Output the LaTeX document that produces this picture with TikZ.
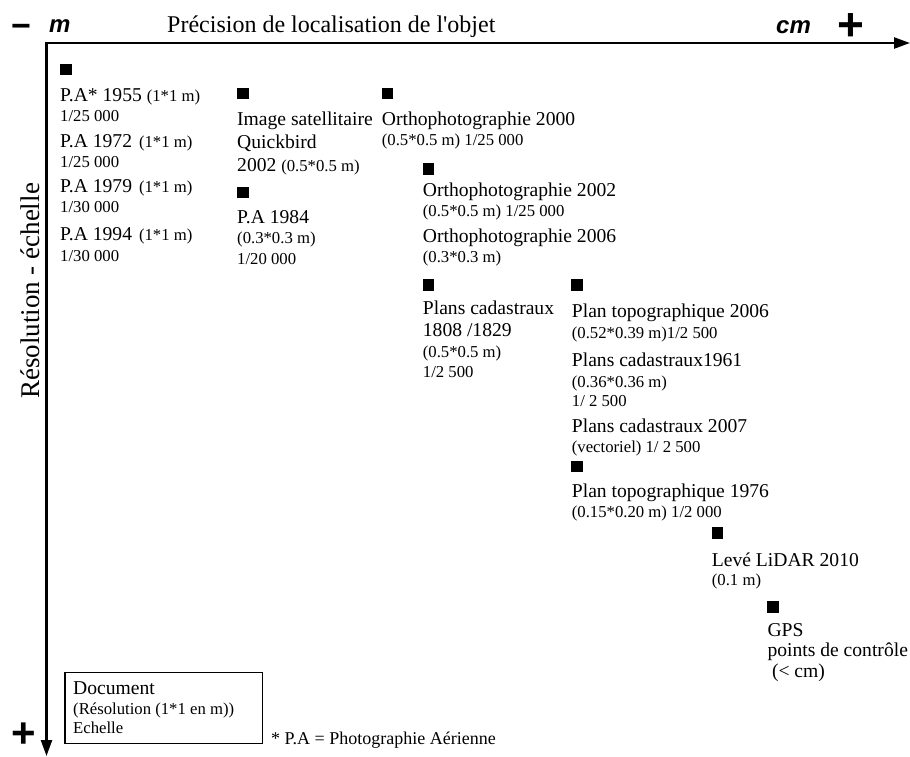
\documentclass[tikz,border=0pt]{standalone}
\usepackage{fontspec}
\setmainfont{Liberation Serif}
\newfontfamily\axsans{Liberation Sans}
\usetikzlibrary{arrows.meta}
\newcommand\smallsz{\fontsize{16.7}{18}\selectfont}
\newcommand\bigsz{\fontsize{19.6}{22}\selectfont}
\begin{document}
\begin{tikzpicture}[x=1pt,y=-1pt,
  big/.style={font=\bigsz, anchor=base west, inner sep=0pt},
  sm/.style={font=\smallsz, anchor=base west, inner sep=0pt},
  sq/.style={fill=black, minimum size=11.5pt, inner sep=0pt},
  axis/.style={line width=2.4pt, -{Triangle[length=16pt,width=11pt]}},
  unit/.style={font=\axsans\bfseries\itshape\fontsize{24}{26}\selectfont, anchor=base west, inner sep=0pt},
  sign/.style={font=\axsans\bfseries, inner sep=0pt},
  axlabel/.style={font=\fontsize{24}{26}\selectfont, inner sep=0pt}
]
\useasboundingbox[fill=white] (0,0) rectangle (910,756);

% axes
\coordinate (O) at (46.5,43);
\coordinate (xend) at (910,43);
\coordinate (yend) at (46.5,756);
\draw[axis] ([xshift=-1.2pt]O) -- (xend);
\draw[axis] (O) -- (yend);

\node[sign, font=\axsans\bfseries\fontsize{34}{34}\selectfont] (minus) at (21,31) {−};
\node[unit] (m) at (49,32) {m};
\node[axlabel, anchor=base west] (title) at (167,32) {Précision de localisation de l\textquotesingle objet};
\node[unit] (cm) at (776,33) {cm};
\node[sign, font=\axsans\bfseries\fontsize{46}{46}\selectfont] (plustop) at (851,27) {+};
\node[axlabel, font=\fontsize{27}{29}\selectfont, rotate=90] (ylabel) at (30,291) {Résolution - échelle};
\node[sign, font=\axsans\bfseries\fontsize{42}{42}\selectfont] (plusbot) at (24,735) {+};

% column 1
\node[sq] (s1) at (66,69.5) {};
\node[big] (pa55) at (60,101.7) {P.A* 1955 {\smallsz(1*1 m)}};
\node[sm] (pa55s) at (60,121.7) {1/25 000};
\node[big] (pa72) at (60,147.3) {P.A 1972\hspace{7pt}{\smallsz(1*1 m)}};
\node[sm] (pa72s) at (60,167.3) {1/25 000};
\node[big] (pa79) at (60,192.3) {P.A 1979\hspace{7pt}{\smallsz(1*1 m)}};
\node[sm] (pa79s) at (60,212.3) {1/30 000};
\node[big] (pa94) at (60,240.7) {P.A 1994\hspace{7pt}{\smallsz(1*1 m)}};
\node[sm] (pa94s) at (60,261) {1/30 000};

% column 2
\node[sq] (s2) at (243,93.5) {};
\node[big] (qb1) at (237,125) {Image satellitaire};
\node[big] (qb2) at (237,148.3) {Quickbird};
\node[big] (qb3) at (237,171.7) {2002 {\smallsz(0.5*0.5 m)}};
\node[sq] (s3) at (243,192.5) {};
\node[big] (pa84) at (237,223) {P.A 1984};
\node[sm] (pa84a) at (237,243.5) {(0.3*0.3 m)};
\node[sm] (pa84b) at (237,264) {1/20 000};

% column 3
\node[sq] (s4) at (387.5,93.5) {};
\node[big] (or00) at (381.7,125) {Orthophotographie 2000};
\node[sm] (or00s) at (381.7,145) {(0.5*0.5 m) 1/25 000};

% column 4
\node[sq] (s5) at (428.4,169) {};
\node[big] (or02) at (422.7,196.7) {Orthophotographie 2002};
\node[sm] (or02s) at (422.7,216.7) {(0.5*0.5 m) 1/25 000};
\node[big] (or06) at (422.7,242.7) {Orthophotographie 2006};
\node[sm] (or06s) at (422.7,262.7) {(0.3*0.3 m)};
\node[sq] (s6) at (428.4,285) {};
\node[big] (pc1) at (422.7,314.5) {Plans cadastraux};
\node[big] (pc2) at (422.7,336.7) {1808 /1829};
\node[sm] (pc3) at (422.7,357.3) {(0.5*0.5 m)};
\node[sm] (pc4) at (422.7,377.3) {1/2 500};

% column 5
\node[sq] (s7) at (577.2,285) {};
\node[big] (pt06) at (571.7,317.5) {Plan topographique 2006};
\node[sm] (pt06s) at (571.7,338.3) {(0.52*0.39 m)1/2 500};
\node[big] (pc61) at (571.7,366.3) {Plans cadastraux1961};
\node[sm] (pc61a) at (571.7,387) {(0.36*0.36 m)};
\node[sm] (pc61b) at (571.7,406.7) {1/ 2 500};
\node[big] (pc07) at (571.7,432) {Plans cadastraux 2007};
\node[sm] (pc07s) at (571.7,452.2) {(vectoriel) 1/ 2 500};
\node[sq] (s8) at (577.2,466.7) {};
\node[big] (pt76) at (571.7,497.5) {Plan topographique 1976};
\node[sm] (pt76s) at (571.7,517.3) {(0.15*0.20 m) 1/2 000};

% column 6
\node[sq] (s9) at (717.5,533) {};
\node[big] (li1) at (711.7,566) {Levé LiDAR 2010};
\node[sm] (li2) at (711.7,585) {(0.1 m)};

% column 7
\node[sq] (s10) at (773.2,607) {};
\node[big] (gps1) at (767.3,636.5) {GPS};
\node[big] (gps2) at (767.3,656.7) {points de contrôle};
\node[big] (gps3) at (771.8,677.3) {(< cm)};

% legend
\node[draw, line width=1.3pt, minimum width=197.4pt, minimum height=71.5pt, anchor=north west, inner sep=0pt] (legend) at (64.3,671.5) {};
\node[big] (lg1) at (73,694.5) {Document};
\node[sm] (lg2) at (73,714.5) {(Résolution (1*1 en m))};
\node[sm] (lg3) at (73,733) {Echelle};
\node[sm, font=\fontsize{18}{20}\selectfont] (note) at (271,744) {* P.A = Photographie Aérienne};
\end{tikzpicture}
\end{document}
